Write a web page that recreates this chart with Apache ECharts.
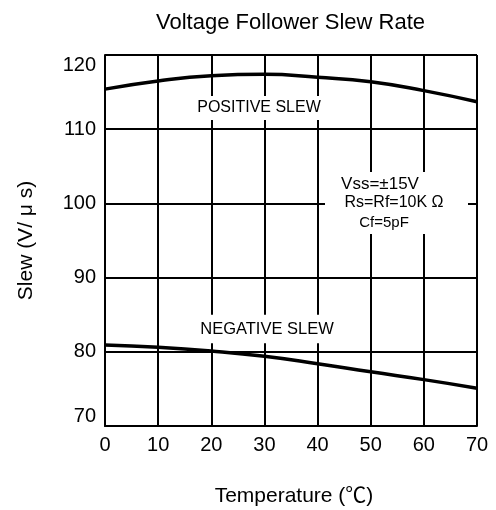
<!DOCTYPE html>
<html>
<head>
<meta charset="utf-8">
<script src="https://cdn.jsdelivr.net/npm/echarts@6/dist/echarts.min.js"></script>
<style>
html,body{margin:0;padding:0;background:#fff;}
#chart{width:496px;height:510px;}
</style>
</head>
<body>
<div id="chart"></div>
<script>
const temperatures = [0, 10, 20, 30, 40, 50, 60, 70];
const positiveSlew = [115.4, 116.5, 117.2, 117.4, 117.0, 116.4, 115.2, 113.7];
const negativeSlew = [80.9, 80.6, 80.1, 79.4, 78.4, 77.3, 76.25, 75.1];
const yTicks = { min: 70, max: 120, step: 10 };
const xTicks = { min: 0, max: 70, step: 10 };

const FONT = "'Liberation Sans', Arial, 'Noto Sans CJK SC', sans-serif";
const chart = echarts.init(document.getElementById('chart'), null, { renderer: 'canvas' });

function pairs(xs, ys) { return xs.map((x, i) => [x, ys[i]]); }

const option = {
  animation: false,
  backgroundColor: '#fff',
  title: {
    text: 'Voltage Follower Slew Rate',
    left: 151, top: 7,
    textStyle: { fontFamily: FONT, fontSize: 22, fontWeight: 'normal', color: '#000' }
  },
  grid: { left: 105, right: 19, top: 55, bottom: 84, containLabel: false, outerBoundsMode: 'none' },
  xAxis: {
    type: 'value', min: xTicks.min, max: xTicks.max, interval: xTicks.step,
    name: 'Temperature (℃)', nameLocation: 'middle', nameGap: 60,
    nameTextStyle: { fontFamily: FONT, fontSize: 21, color: '#000', padding: [0, 0, 0, 6] },
    axisLine: { show: true, lineStyle: { color: '#000', width: 2 } },
    axisTick: { show: false },
    axisLabel: { fontFamily: FONT, fontSize: 20, color: '#000', margin: 9 },
    splitLine: { show: true, lineStyle: { color: '#000', width: 2 } }
  },
  yAxis: {
    type: 'value', min: yTicks.min, max: yTicks.max, interval: yTicks.step,
    name: 'Slew (V/ μ s)', nameLocation: 'middle', nameGap: 68, nameRotate: 90,
    nameTextStyle: { fontFamily: FONT, fontSize: 21, color: '#000' },
    axisLine: { show: true, lineStyle: { color: '#000', width: 2 } },
    axisTick: { show: false },
    axisLabel: {
      fontFamily: FONT, fontSize: 20, color: '#000', margin: 9,
      verticalAlignMaxLabel: 'top', verticalAlignMinLabel: 'bottom'
    },
    splitLine: { show: true, lineStyle: { color: '#000', width: 2 } }
  },
  series: [
    {
      name: 'Positive slew', type: 'line', smooth: true, showSymbol: false, symbol: 'none',
      lineStyle: { color: '#000', width: 3.5 }, z: 5,
      data: pairs(temperatures, positiveSlew)
    },
    {
      name: 'Negative slew', type: 'line', smooth: true, showSymbol: false, symbol: 'none',
      lineStyle: { color: '#000', width: 3.5 }, z: 5,
      data: pairs(temperatures, negativeSlew)
    }
  ],
  graphic: [
    {
      type: 'text', z: 100, x: 259, y: 108,
      style: {
        text: 'POSITIVE SLEW', font: '16px ' + FONT, fill: '#000',
        align: 'center', verticalAlign: 'middle',
        backgroundColor: '#fff', padding: [4, 4]
      }
    },
    {
      type: 'text', z: 100, x: 267, y: 329,
      style: {
        text: 'NEGATIVE SLEW', font: '16.5px ' + FONT, fill: '#000',
        align: 'center', verticalAlign: 'middle',
        backgroundColor: '#fff', padding: [6, 4]
      }
    },
    {
      type: 'rect', z: 99,
      shape: { x: 325, y: 172, width: 143, height: 62 },
      style: { fill: '#fff' }
    },
    {
      type: 'text', z: 100, x: 380, y: 184,
      style: { text: 'Vss=±15V', font: '17px ' + FONT, fill: '#000', align: 'center', verticalAlign: 'middle' }
    },
    {
      type: 'text', z: 100, x: 394, y: 203,
      style: { text: 'Rs=Rf=10K Ω', font: '16px ' + FONT, fill: '#000', align: 'center', verticalAlign: 'middle' }
    },
    {
      type: 'text', z: 100, x: 384, y: 223,
      style: { text: 'Cf=5pF', font: '15px ' + FONT, fill: '#000', align: 'center', verticalAlign: 'middle' }
    }
  ]
};
chart.setOption(option);
</script>
</body>
</html>
